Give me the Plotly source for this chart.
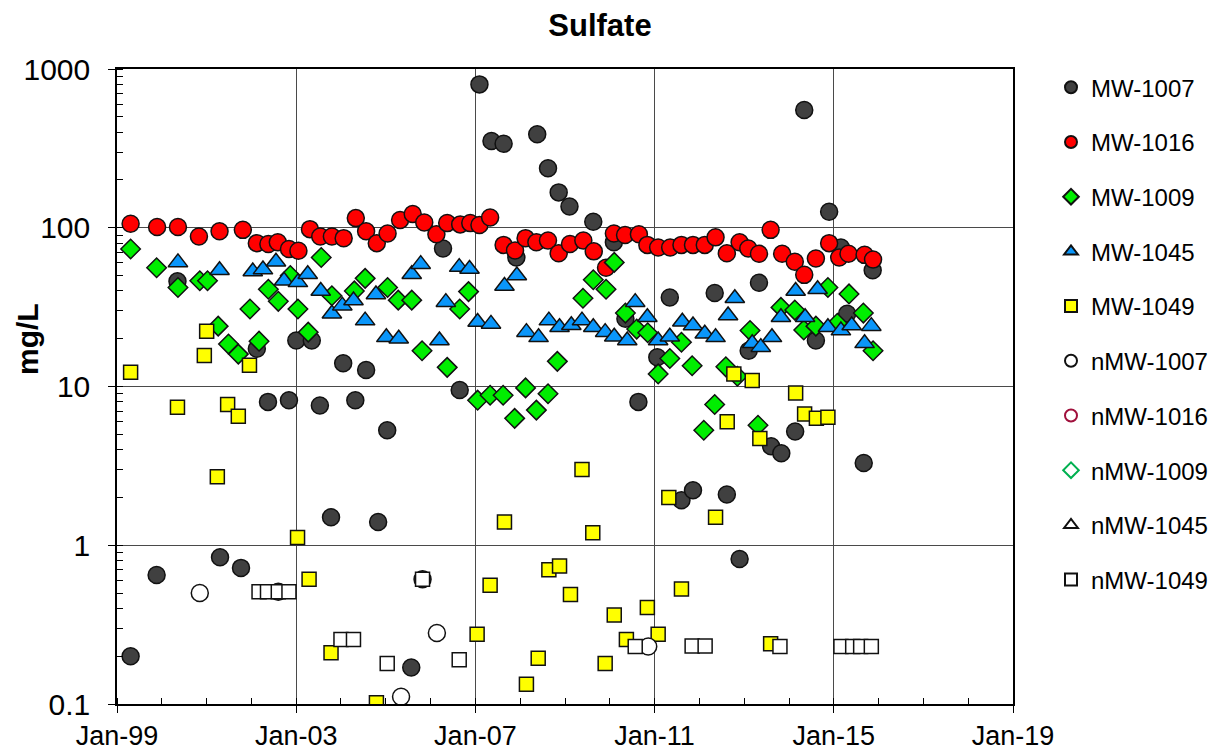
import plotly.graph_objects as go

# Sulfate concentrations (mg/L) by monitoring well and sampling date
mw1007_dates = ["1999-04-22", "1999-11-20", "2000-05-08", "2001-04-20", "2001-10-08", "2002-02-14",
                "2002-05-16", "2002-08-08", "2002-11-03", "2003-01-02", "2003-05-08", "2003-07-13",
                "2003-10-12", "2004-01-19", "2004-04-27", "2004-07-24", "2004-10-30", "2005-01-12",
                "2005-07-27", "2005-10-27", "2006-04-12", "2006-08-26", "2007-02-03", "2007-05-12",
                "2007-08-19", "2007-12-01", "2008-05-19", "2008-08-15", "2008-11-10", "2009-02-06",
                "2009-08-19", "2010-02-03", "2010-05-08", "2010-08-22", "2011-01-23", "2011-05-05",
                "2011-08-08", "2011-11-10", "2012-05-05", "2012-08-12", "2012-11-24", "2013-02-06",
                "2013-05-01", "2013-08-08", "2013-10-30", "2014-02-20", "2014-05-05", "2014-08-08",
                "2014-11-24", "2015-02-28", "2015-04-20", "2015-09-02", "2015-11-14"]
mw1007_vals = [0.2, 0.65, 46, 0.84, 0.72, 17.3,
               8.0, 0.51, 8.2, 19.5, 19.5, 7.6,
               1.5, 14, 8.2, 12.7, 1.4, 5.3,
               0.17, 0.61, 74, 9.5, 800, 352,
               338, 65, 388, 237, 167, 136,
               109, 81, 26.7, 8.0, 15.3, 36.4,
               1.92, 2.22, 38.8, 2.09, 0.82, 16.8,
               45, 4.2, 3.8, 5.2, 552, 19.5,
               126, 75, 28.7, 3.3, 54]

mw1016_dates = ["1999-04-22", "1999-11-24", "2000-05-12", "2000-10-30", "2001-04-16", "2001-10-23",
                "2002-02-14", "2002-05-19", "2002-08-04", "2002-11-03", "2003-01-19", "2003-04-23",
                "2003-07-16", "2003-10-19", "2004-01-23", "2004-05-01", "2004-07-24", "2004-10-19",
                "2005-01-15", "2005-04-27", "2005-08-08", "2005-11-10", "2006-02-17", "2006-05-16",
                "2006-08-30", "2006-11-20", "2007-02-03", "2007-05-01", "2007-08-19", "2007-11-20",
                "2008-02-14", "2008-05-12", "2008-08-15", "2008-11-10", "2009-02-10", "2009-05-30",
                "2009-08-23", "2009-12-01", "2010-02-03", "2010-05-05", "2010-08-26", "2010-11-03",
                "2011-01-30", "2011-05-08", "2011-08-08", "2011-11-10", "2012-02-14", "2012-05-12",
                "2012-08-12", "2012-11-24", "2013-02-03", "2013-05-01", "2013-08-04", "2013-11-06",
                "2014-02-17", "2014-05-05", "2014-08-08", "2014-11-24", "2015-02-14", "2015-05-01",
                "2015-09-09", "2015-11-17"]
mw1016_vals = [106, 101, 101, 88, 95, 97,
               80, 79, 81, 73.5, 71.7, 98,
               88, 88, 86, 115, 95, 80,
               92, 112, 122, 108, 91, 107,
               105, 107, 104, 116, 78, 72,
               86, 81, 83, 69, 79, 83,
               71, 56, 92, 90, 91, 78,
               75, 75, 78, 78, 78, 87,
               69, 81, 74, 68.5, 97, 68.5,
               61, 50.5, 64, 80, 65, 68.5,
               67.5, 63]

mw1009_dates = ["1999-04-22", "1999-11-20", "2000-05-12", "2000-11-06", "2001-01-08", "2001-04-05",
                "2001-06-28", "2001-09-16", "2001-12-20", "2002-03-04", "2002-05-19", "2002-08-08",
                "2002-11-14", "2003-01-15", "2003-04-09", "2003-07-24", "2003-10-19", "2004-04-19",
                "2004-07-16", "2005-01-15", "2005-04-12", "2005-07-31", "2005-10-23", "2006-05-16",
                "2006-08-26", "2006-11-06", "2007-01-19", "2007-05-01", "2007-08-15", "2007-11-17",
                "2008-02-14", "2008-05-12", "2008-08-15", "2008-10-30", "2009-05-27", "2009-08-19",
                "2009-12-01", "2010-02-06", "2010-05-08", "2010-08-08", "2010-11-06", "2011-01-30",
                "2011-05-05", "2011-08-08", "2011-11-03", "2012-02-06", "2012-05-05", "2012-08-04",
                "2012-11-06", "2013-02-17", "2013-04-23", "2013-10-27", "2014-02-17", "2014-05-01",
                "2014-08-08", "2014-11-14", "2015-01-30", "2015-05-05", "2015-08-30", "2015-11-17"]
mw1009_vals = [73.5, 56, 42, 46.4, 46.4, 24,
               18.5, 16, 30.8, 19.3, 41, 34.4,
               50, 30.8, 22, 65, 37.3, 40,
               48, 42, 35, 35, 16.8, 13.2,
               30.8, 39.6, 8.2, 8.8, 8.8, 6.3,
               9.8, 7.1, 9.0, 14.4, 36, 47,
               41, 60.5, 29, 23, 21.8, 12,
               15, 19, 13.5, 5.3, 7.7, 13.3,
               11.6, 22.5, 5.7, 31.5, 30.3, 22.7,
               24, 42, 25, 38.3, 29, 16.8]

mw1045_dates = ["2000-05-12", "2001-04-16", "2002-01-12", "2002-04-05", "2002-07-20", "2002-09-24",
                "2003-01-15", "2003-04-05", "2003-07-20", "2003-10-19", "2004-01-12", "2004-04-12",
                "2004-07-16", "2004-10-12", "2005-01-05", "2005-04-16", "2005-07-31", "2005-10-12",
                "2006-03-14", "2006-05-05", "2006-08-22", "2006-11-14", "2007-01-19", "2007-05-08",
                "2007-08-26", "2007-12-05", "2008-02-21", "2008-05-30", "2008-08-22", "2008-11-17",
                "2009-02-21", "2009-05-19", "2009-08-19", "2009-11-24", "2010-02-06", "2010-05-23",
                "2010-07-27", "2010-11-03", "2011-01-30", "2011-05-05", "2011-08-15", "2011-11-10",
                "2012-02-14", "2012-05-12", "2012-08-22", "2012-10-16", "2013-03-07", "2013-05-16",
                "2013-08-15", "2013-10-27", "2014-02-24", "2014-05-12", "2014-08-22", "2014-11-14",
                "2015-02-28", "2015-05-27", "2015-09-09", "2015-11-03"]
mw1045_vals = [60.5, 54, 53, 54.5, 61, 46.4,
               45.3, 51, 40, 28.7, 32.3, 34.8,
               26, 38, 20.4, 20, 51, 59,
               19.5, 34, 56.5, 55, 25.5, 24.8,
               43, 50, 22, 20.4, 26, 23.6,
               24.3, 26, 23.6, 22, 20.6, 19.5,
               34, 27.3, 19.5, 20.6, 25.6, 24.2,
               21.5, 20.4, 28, 36, 18.7, 17.7,
               20.4, 27.3, 40, 27.3, 41, 23.6,
               22.5, 24.2, 18.7, 24]

mw1049_dates = ["1999-04-22", "2000-05-08", "2000-12-13", "2001-01-01", "2001-03-29", "2001-06-21",
                "2001-09-16", "2001-12-16", "2003-01-12", "2003-04-16", "2003-10-12", "2004-10-16",
                "2007-01-15", "2007-05-01", "2007-08-26", "2008-02-21", "2008-05-27", "2008-08-22",
                "2008-11-17", "2009-02-14", "2009-05-19", "2009-08-15", "2009-11-24", "2010-02-06",
                "2010-05-16", "2010-11-03", "2011-01-30", "2011-04-27", "2011-08-08", "2012-05-12",
                "2012-08-15", "2012-10-08", "2013-03-07", "2013-05-08", "2013-08-04", "2014-02-24",
                "2014-05-08", "2014-08-12", "2014-11-14"]
mw1049_vals = [12.3, 7.4, 15.7, 22.3, 2.7, 7.7,
               6.5, 13.6, 1.12, 0.61, 0.21, 0.102,
               0.275, 0.56, 1.4, 0.133, 0.194, 0.70,
               0.74, 0.49, 3.0, 1.2, 0.18, 0.363,
               0.255, 0.406, 0.275, 2.0, 0.53, 1.5,
               6.0, 12, 10.9, 4.7, 0.24, 9.1,
               6.7, 6.3, 6.4]

# Non-detects (plotted at reporting limit)
nmw1007_dates = ["2000-11-06", "2005-05-05", "2006-02-21", "2010-11-10"]
nmw1007_vals = [0.5, 0.111, 0.28, 0.23]

nmw1016_dates = []
nmw1016_vals = []

nmw1009_dates = []
nmw1009_vals = []

nmw1045_dates = []
nmw1045_vals = []

nmw1049_dates = ["2002-03-04", "2002-05-12", "2002-08-08", "2002-11-03", "2004-01-01", "2004-04-12",
                 "2005-01-12", "2005-10-27", "2006-08-22", "2010-07-27", "2011-11-03", "2012-02-17",
                 "2013-10-19", "2015-02-28", "2015-06-04", "2015-08-08", "2015-11-03"]
nmw1049_vals = [0.51, 0.51, 0.51, 0.51, 0.255, 0.255,
                0.18, 0.61, 0.19, 0.23, 0.232, 0.232,
                0.23, 0.23, 0.23, 0.23, 0.23]

FONT = "Arial, Liberation Sans, sans-serif"

# name, dates, values, symbol, size, fill, outline, outline width
series = [
    ("MW-1007", mw1007_dates, mw1007_vals, "circle", 17, "#404040", "#111111", 1.5),
    ("MW-1016", mw1016_dates, mw1016_vals, "circle", 17, "#FF0000", "#111111", 1.5),
    ("MW-1009", mw1009_dates, mw1009_vals, "diamond", 15, "#00EE00", "#111111", 1.5),
    ("MW-1045", mw1045_dates, mw1045_vals, "triangle-up", 17, "#0A96FA", "#111111", 1.5),
    ("MW-1049", mw1049_dates, mw1049_vals, "square", 14, "#FFFF00", "#111111", 1.5),
    ("nMW-1007", nmw1007_dates, nmw1007_vals, "circle", 17, "#FFFFFF", "#111111", 1.5),
    ("nMW-1016", nmw1016_dates, nmw1016_vals, "circle-open", 17, "#A0103C", "#A0103C", 2.5),
    ("nMW-1009", nmw1009_dates, nmw1009_vals, "diamond-open", 15, "#00B050", "#00B050", 2),
    ("nMW-1045", nmw1045_dates, nmw1045_vals, "triangle-up", 17, "#FFFFFF", "#111111", 1.5),
    ("nMW-1049", nmw1049_dates, nmw1049_vals, "square", 14, "#FFFFFF", "#111111", 1.5),
]

fig = go.Figure()
for name, xs, ys, sym, size, fill, edge, lw in series:
    fig.add_trace(go.Scatter(
        x=xs if xs else [None], y=ys if ys else [None],
        mode="markers", name=name, legendgroup=name,
        marker=dict(symbol=sym, size=size, color=fill,
                    line=dict(color=edge, width=lw)),
    ))

fig.update_layout(
    width=1213, height=752,
    margin=dict(l=117, r=200, t=69, b=48, autoexpand=False),
    paper_bgcolor="white", plot_bgcolor="white",
    font=dict(family=FONT, size=24, color="black"),
    title=dict(text="<b>Sulfate</b>", x=600 / 1213, xanchor="center",
               y=1 - 25 / 752, yanchor="middle",
               font=dict(family=FONT, size=31, color="black")),
    showlegend=True,
    legend=dict(x=(1051 - 117) / 896, y=1.006, xanchor="left", yanchor="top",
                font=dict(family=FONT, size=24, color="black"),
                tracegroupgap=20.5, itemsizing="constant", maxheight=740,
                bgcolor="rgba(0,0,0,0)"),
    annotations=[dict(text="<b>mg/L</b>", textangle=-90,
                      x=(27 - 117) / 896, xanchor="center",
                      y=(704 - 339) / 635, yanchor="middle",
                      xref="paper", yref="paper", showarrow=False,
                      font=dict(family=FONT, size=30, color="black"))],
)

fig.update_xaxes(
    type="date", range=["1999-01-01", "2019-01-01"], automargin=False,
    tick0="1999-01-01", dtick="M48", tickformat="%b-%y",
    ticks="outside", ticklen=7, tickcolor="black", tickwidth=1,
    showgrid=True, gridcolor="#4a4a4a", gridwidth=1,
    showline=True, linecolor="black", linewidth=1.5, mirror=True,
    tickfont=dict(family=FONT, size=27, color="black"),
    minor=dict(dtick="M12", tick0="1999-01-01", ticks="inside", ticklen=6,
               tickcolor="black", showgrid=False),
    zeroline=False,
)
fig.update_yaxes(
    type="log", range=[-1, 3], dtick=1, automargin=False,
    tickvals=[0.1, 1, 10, 100, 1000], ticktext=["0.1", "1", "10", "100", "1000"],
    ticks="outside", ticklen=7, tickcolor="black", tickwidth=1,
    showgrid=True, gridcolor="#4a4a4a", gridwidth=1,
    showline=True, linecolor="black", linewidth=1.5, mirror=True,
    tickfont=dict(family=FONT, size=30, color="black"), ticklabelstandoff=12,
    minor=dict(dtick="D1", ticks="inside", ticklen=6, tickcolor="black", showgrid=False),
    zeroline=False,
)

fig.write_html("out.html")
